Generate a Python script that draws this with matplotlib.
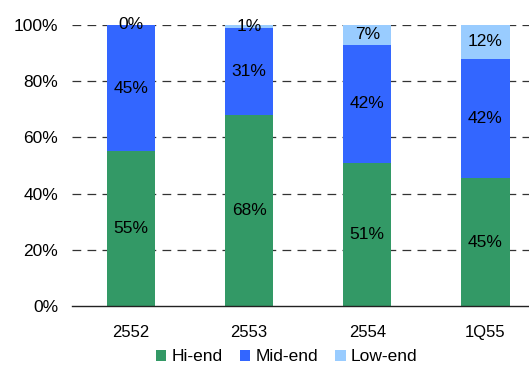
import numpy as np
import matplotlib.pyplot as plt

plt.rcParams["font.family"] = ["Liberation Sans", "DejaVu Sans"]

# ------------------------------------------------------------------ #
#   Data
# ------------------------------------------------------------------ #
categories = ["2552", "2553", "2554", "1Q55"]
hi_end = [55, 68, 51, 45.5]
mid_end = [45, 31, 42, 42.5]
low_end = [0, 1, 7, 12]
hi_labels = ["55%", "68%", "51%", "45%"]
mid_labels = ["45%", "31%", "42%", "42%"]
low_labels = ["0%", "1%", "7%", "12%"]

colors = {"Hi-end": "#339966", "Mid-end": "#3366FF", "Low-end": "#99CCFF"}
fs = 12.5

# ------------------------------------------------------------------ #
#   Plot
# ------------------------------------------------------------------ #
fig = plt.figure(figsize=(5.29, 3.66), dpi=100)
ax = fig.add_axes([0.136, 0.164, 0.864, 0.768])

x = np.arange(len(categories))
width = 0.41
hi = np.array(hi_end)
mid = np.array(mid_end)
low = np.array(low_end)

ax.bar(x, hi, width, color=colors["Hi-end"], label="Hi-end", zorder=2)
ax.bar(x, mid, width, bottom=hi, color=colors["Mid-end"], label="Mid-end", zorder=2)
ax.bar(x, low, width, bottom=hi + mid, color=colors["Low-end"], label="Low-end", zorder=2)

for i in range(len(categories)):
    ax.text(x[i], hi[i] / 2, hi_labels[i], ha="center", va="center", fontsize=fs, zorder=3)
    ax.text(x[i], hi[i] + mid[i] / 2, mid_labels[i], ha="center", va="center", fontsize=fs, zorder=3)
    ax.text(x[i], hi[i] + mid[i] + low[i] / 2, low_labels[i], ha="center", va="center",
            fontsize=fs, zorder=3)

ax.set_ylim(0, 100)
ax.set_xlim(-0.5, 3.37)
ax.set_yticks(np.arange(0, 101, 20))
ax.set_yticklabels([f"{v}%" for v in range(0, 101, 20)], fontsize=fs)
ax.set_xticks(x)
ax.set_xticklabels(categories, fontsize=fs - 0.5)
ax.tick_params(axis="both", length=0)
ax.tick_params(axis="x", pad=14)
ax.tick_params(axis="y", pad=10)

for yv in range(20, 101, 20):
    ax.axhline(yv, color="#333333", linestyle=(0, (7, 5)), linewidth=0.9, zorder=1)

for side in ["top", "right", "left"]:
    ax.spines[side].set_visible(False)
ax.spines["bottom"].set_color("#222222")
ax.spines["bottom"].set_linewidth(1.0)

ax.legend(loc="upper center", bbox_to_anchor=(0.47, -0.13), ncol=3, frameon=False,
          fontsize=fs, handlelength=0.6, handleheight=0.6, handletextpad=0.3,
          columnspacing=1.0, borderaxespad=0)

fig.savefig("out.png", dpi=100)
